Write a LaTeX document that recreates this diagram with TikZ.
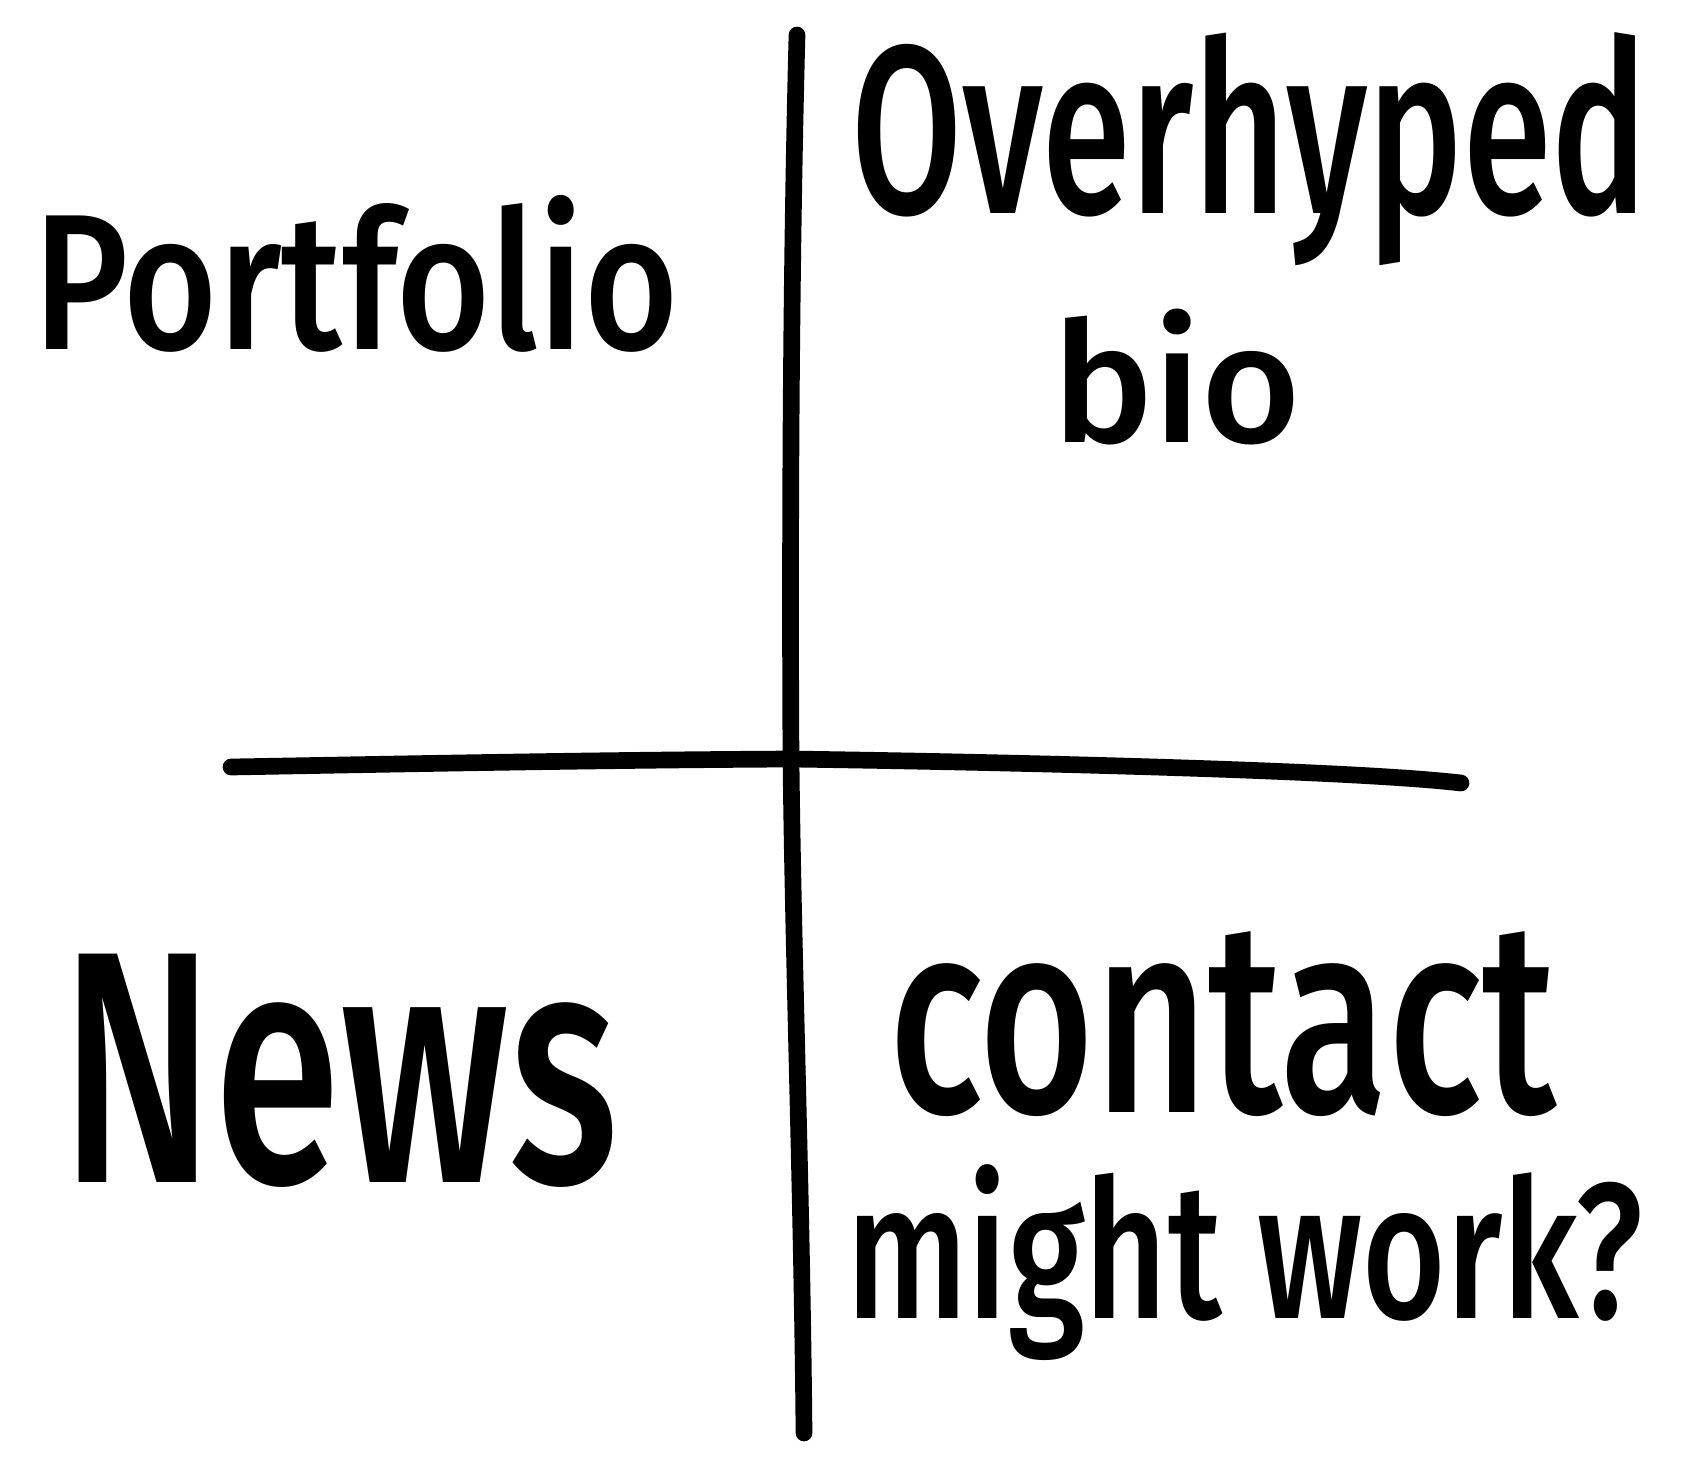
\documentclass[tikz,border=0pt]{standalone}
\usepackage{fontspec}
\setmainfont{Fira Sans}
\newfontfamily\handfont{Fira Sans Medium}
\tikzset{
  hand/.style={line width=9.5pt, line cap=round, line join=round, black},
  label/.style={inner sep=0pt, outer sep=0pt, anchor=north west, text=black, font=\handfont}
}
\begin{document}
\begin{tikzpicture}[x=0.02cm, y=-0.02cm]
\useasboundingbox (0,0) rectangle (1700,1464);
% axis endpoints
\coordinate (vtop) at (797,35);
\coordinate (vbot) at (804,1433);
\coordinate (hleft) at (231,767);
\coordinate (hright) at (1461,783);
\coordinate (cross) at (791,759);
\draw[hand] (vtop) .. controls (790,300) and (790,600) .. (cross)
  .. controls (793,950) and (802,1200) .. (vbot);
\draw[hand] (hleft) .. controls (400,764) and (600,760) .. (cross)
  .. controls (1000,762) and (1350,770) .. (hright);
% labels
\node[label] (portfolio) at (33,195) {\resizebox*{12.9cm}{3.14cm}{Portfolio}};
\node[label] (overhyped) at (851,33) {\resizebox*{15.94cm}{4.66cm}{Overhyped}};
\node[label] (bio) at (1052,309) {\resizebox*{4.98cm}{2.72cm}{bio}};
\node[label] (news) at (60,954) {\resizebox*{11.16cm}{4.66cm}{News}};
\node[label] (contact) at (889,932) {\resizebox*{13.34cm}{3.7cm}{contact}};
\node[label] (might) at (846,1165) {\resizebox*{15.94cm}{3.92cm}{might work?}};
\end{tikzpicture}
\end{document}
